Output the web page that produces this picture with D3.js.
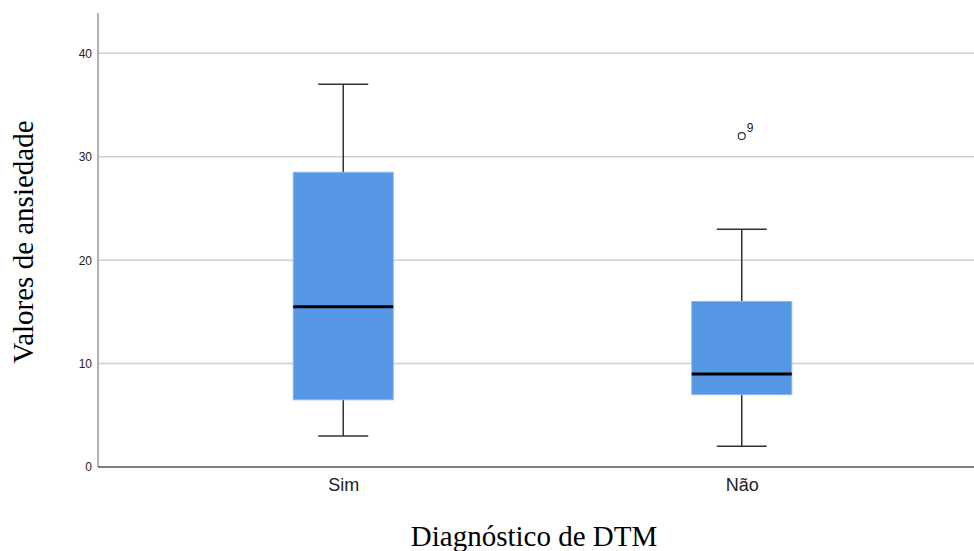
<!DOCTYPE html>
<html>
<head>
<meta charset="utf-8">
<script src="https://cdn.jsdelivr.net/npm/d3@7"></script>
<style>
body { margin: 0; background: #fff; }
</style>
</head>
<body>
<svg id="svg" width="974" height="551"></svg>
<script>
// data
var categories = ["Sim", "Não"];
var whiskerLow = [3, 2];
var q1 = [6.5, 7];
var median = [15.5, 9];
var q3 = [28.5, 16];
var whiskerHigh = [37, 23];
var outliers = [{cat: "Não", value: 32, label: "9"}];
var yTicks = [0, 10, 20, 30, 40];

var boxes = categories.map(function(c, i) {
  return {cat: c, lo: whiskerLow[i], q1: q1[i], med: median[i], q3: q3[i], hi: whiskerHigh[i]};
});

var svg = d3.select("#svg");
var plotLeft = 98, plotRight = 974, plotTop = 13, plotBottom = 467;

var x = d3.scalePoint().domain(categories).range([144, 941]).padding(0.5);
var y = d3.scaleLinear().domain([0, 43.9]).range([plotBottom, plotTop]);

var boxW = 100, capW = 50;

// grid
svg.selectAll("line.grid")
  .data(yTicks.filter(function(d) { return d > 0; }))
  .enter().append("line")
  .attr("class", "grid")
  .attr("x1", plotLeft).attr("x2", plotRight)
  .attr("y1", function(d) { return y(d); })
  .attr("y2", function(d) { return y(d); })
  .attr("stroke", "#d0d0d0")
  .attr("stroke-width", 1.5);

// y axis
var yAxis = d3.axisLeft(y).tickValues(yTicks).tickSize(0).tickPadding(6);
var gy = svg.append("g").attr("transform", "translate(" + plotLeft + ",0)").call(yAxis);
gy.select(".domain").remove();
gy.selectAll("text")
  .attr("font-family", "Arial, 'Liberation Sans', sans-serif")
  .attr("font-size", "12px")
  .attr("fill", "#222");

svg.append("line")
  .attr("x1", plotLeft).attr("x2", plotLeft)
  .attr("y1", plotTop).attr("y2", plotBottom)
  .attr("stroke", "#999").attr("stroke-width", 1.5);

// x axis
var xAxis = d3.axisBottom(x).tickSize(0).tickPadding(11);
var gx = svg.append("g").attr("transform", "translate(0," + plotBottom + ")").call(xAxis);
gx.select(".domain").remove();
gx.selectAll("text")
  .attr("font-family", "Arial, 'Liberation Sans', sans-serif")
  .attr("font-size", "18px")
  .attr("fill", "#222");

svg.append("line")
  .attr("x1", plotLeft).attr("x2", plotRight)
  .attr("y1", plotBottom).attr("y2", plotBottom)
  .attr("stroke", "#555").attr("stroke-width", 1.5);

// whiskers
var g = svg.selectAll("g.box").data(boxes).enter().append("g").attr("class", "box");

g.append("line")
  .attr("x1", function(d) { return x(d.cat); })
  .attr("x2", function(d) { return x(d.cat); })
  .attr("y1", function(d) { return y(d.hi); })
  .attr("y2", function(d) { return y(d.lo); })
  .attr("stroke", "#333").attr("stroke-width", 1.5);

g.append("line")
  .attr("x1", function(d) { return x(d.cat) - capW / 2; })
  .attr("x2", function(d) { return x(d.cat) + capW / 2; })
  .attr("y1", function(d) { return y(d.hi); })
  .attr("y2", function(d) { return y(d.hi); })
  .attr("stroke", "#333").attr("stroke-width", 1.5);

g.append("line")
  .attr("x1", function(d) { return x(d.cat) - capW / 2; })
  .attr("x2", function(d) { return x(d.cat) + capW / 2; })
  .attr("y1", function(d) { return y(d.lo); })
  .attr("y2", function(d) { return y(d.lo); })
  .attr("stroke", "#333").attr("stroke-width", 1.5);

g.append("rect")
  .attr("x", function(d) { return x(d.cat) - boxW / 2; })
  .attr("width", boxW)
  .attr("y", function(d) { return y(d.q3); })
  .attr("height", function(d) { return y(d.q1) - y(d.q3); })
  .attr("fill", "#5596e5")
  .attr("stroke", "#8ab6ee").attr("stroke-width", 1);

g.append("line")
  .attr("x1", function(d) { return x(d.cat) - boxW / 2; })
  .attr("x2", function(d) { return x(d.cat) + boxW / 2; })
  .attr("y1", function(d) { return y(d.med); })
  .attr("y2", function(d) { return y(d.med); })
  .attr("stroke", "#000").attr("stroke-width", 3);

// outliers
svg.selectAll("circle.out").data(outliers).enter().append("circle")
  .attr("cx", function(d) { return x(d.cat); })
  .attr("cy", function(d) { return y(d.value); })
  .attr("r", 3.5)
  .attr("fill", "none").attr("stroke", "#333").attr("stroke-width", 1.2);

svg.selectAll("text.outlab").data(outliers).enter().append("text")
  .attr("x", function(d) { return x(d.cat) + 5; })
  .attr("y", function(d) { return y(d.value) - 4; })
  .attr("font-family", "Arial, 'Liberation Sans', sans-serif")
  .attr("font-size", "12px")
  .attr("fill", "#222")
  .text(function(d) { return d.label; });

// axis titles
svg.append("text")
  .attr("x", 534).attr("y", 546)
  .attr("text-anchor", "middle")
  .attr("font-family", "'Times New Roman', 'Liberation Serif', serif")
  .attr("font-size", "29px")
  .attr("fill", "#000")
  .text("Diagnóstico de DTM");

svg.append("text")
  .attr("transform", "translate(33,242) rotate(-90)")
  .attr("text-anchor", "middle")
  .attr("font-family", "'Times New Roman', 'Liberation Serif', serif")
  .attr("font-size", "29px")
  .attr("fill", "#000")
  .text("Valores de ansiedade");
</script>
</body>
</html>
